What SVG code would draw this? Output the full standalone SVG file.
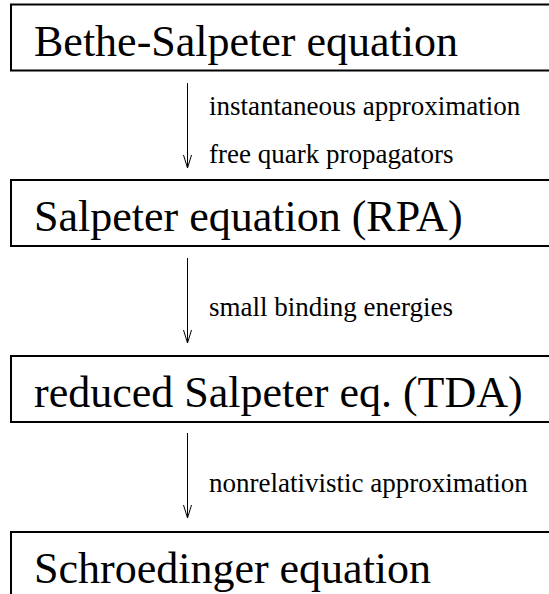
<svg xmlns="http://www.w3.org/2000/svg" width="549" height="594" viewBox="0 0 549 594">
<style>
.box{fill:#fff;stroke:#000;stroke-width:2}
.big{font-family:"Liberation Serif","Times New Roman",serif;font-size:44px;fill:#000}
.lab{font-family:"Liberation Serif","Times New Roman",serif;font-size:27px;fill:#000}
.arr{stroke:#000;stroke-width:1;fill:none}
</style>
<rect width="549" height="594" fill="#fff"/>
<g id="node1"><rect class="box" x="11" y="4.5" width="560" height="66"/><text class="big" x="34" y="56">Bethe-Salpeter equation</text></g>
<g id="node2"><rect class="box" x="11" y="180" width="560" height="66"/><text class="big" x="34" y="231">Salpeter equation (RPA)</text></g>
<g id="node3"><rect class="box" x="11" y="356" width="560" height="66"/><text class="big" x="34" y="407">reduced Salpeter eq. (TDA)</text></g>
<g id="node4"><rect class="box" x="11" y="532" width="560" height="66"/><text class="big" x="34" y="583">Schroedinger equation</text></g>
<g id="connectors">
<line class="arr" x1="187.5" y1="83" x2="187.5" y2="168"/>
<path class="arr" d="M183.5,155 L187.5,168 L191.5,155"/>
<line class="arr" x1="187.5" y1="258" x2="187.5" y2="343"/>
<path class="arr" d="M183.5,330 L187.5,343 L191.5,330"/>
<line class="arr" x1="187.5" y1="433" x2="187.5" y2="518"/>
<path class="arr" d="M183.5,505 L187.5,518 L191.5,505"/>
</g>
<g id="labels">
<text class="lab" x="209" y="115">instantaneous approximation</text>
<text class="lab" x="209" y="163">free quark propagators</text>
<text class="lab" x="209" y="316">small binding energies</text>
<text class="lab" x="209" y="492">nonrelativistic approximation</text>
</g>
</svg>
